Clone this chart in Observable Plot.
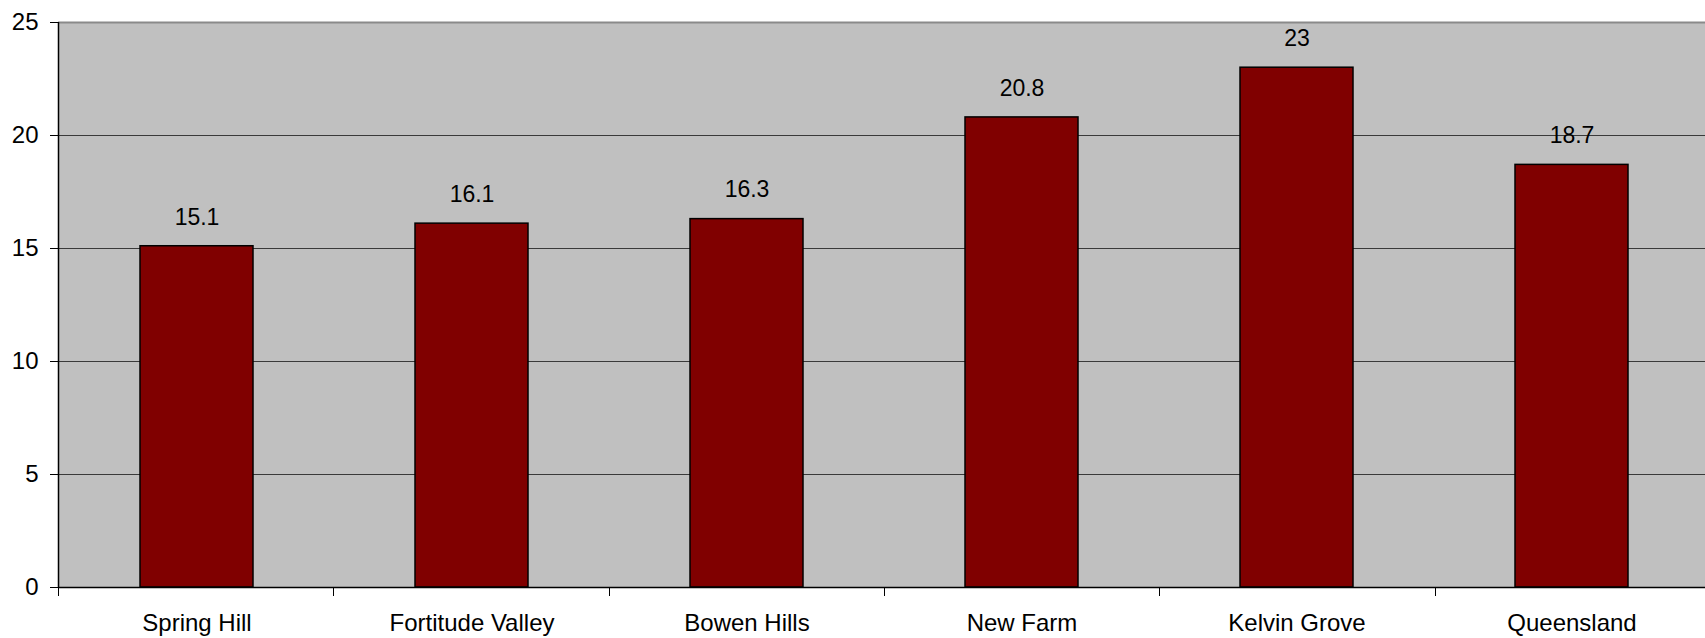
<!DOCTYPE html>
<html>
<head>
<meta charset="utf-8">
<script src="https://cdn.jsdelivr.net/npm/d3@7"></script>
<script src="https://cdn.jsdelivr.net/npm/@observablehq/plot@0.6"></script>
<style>
  html, body { margin: 0; padding: 0; background: #fff; overflow: hidden; }
  svg { display: block; }
</style>
</head>
<body>
<div id="chart"></div>
<script>
const categories = ["Spring Hill", "Fortitude Valley", "Bowen Hills", "New Farm", "Kelvin Grove", "Queensland"];
const values = [15.1, 16.1, 16.3, 20.8, 23, 18.7];
const valueLabels = ["15.1", "16.1", "16.3", "20.8", "23", "18.7"];
const yTicks = [0, 5, 10, 15, 20, 25];

const data = categories.map((c, i) => ({category: c, value: values[i], label: valueLabels[i]}));

const W = 1705, H = 638;
const mL = 58, mT = 22, mB = 51, mR = -5;

const chart = Plot.plot({
  width: W,
  height: H,
  marginLeft: mL,
  marginTop: mT,
  marginBottom: mB,
  marginRight: mR,
  style: {fontFamily: "'Liberation Sans', Arial, sans-serif", fontSize: "23px", color: "#000", background: "#fff", overflow: "hidden"},
  x: {domain: categories, paddingInner: 0.59, paddingOuter: 0.295, align: 0.5, label: null},
  y: {domain: [0, 25], label: null},
  marks: [
    Plot.frame({fill: "#c0c0c0", stroke: null}),
    Plot.ruleY(yTicks.filter(t => t > 0 && t < 25), {stroke: "#3a3a3a", strokeWidth: 1}),
    Plot.ruleY([25], {stroke: "#8a8a8a", strokeWidth: 2}),
    Plot.barY(data, {x: "category", y: "value", fill: "#800000", stroke: "#000", strokeWidth: 1.5}),
    Plot.text(data, {x: "category", y: "value", text: "label", dy: -29, fontSize: 23, fill: "#000"}),
    Plot.axisY({ticks: yTicks, tickSize: 8, tickPadding: 12, fontSize: 24, label: null, stroke: "#000"}),
    Plot.axisX({tickSize: 0, tickPadding: 26, fontSize: 24, label: null}),
    Plot.ruleY([0], {stroke: "#000", strokeWidth: 1.5})
  ]
});

// Category boundary ticks and left axis line, positioned from the chart's scales
const ys = chart.scale("y");
const svg = d3.select(chart);
const bw = (W - mL - mR) / categories.length;
const g = svg.append("g");
const y0 = ys.apply(0);
for (let i = 0; i <= categories.length; i++) {
  const x = Math.round(mL + bw * i) + 0.5;
  g.append("line").attr("x1", x).attr("x2", x).attr("y1", y0).attr("y2", y0 + 9).attr("stroke", "#000");
}
g.append("line").attr("x1", mL + 0.5).attr("x2", mL + 0.5).attr("y1", ys.apply(25)).attr("y2", y0).attr("stroke", "#000").attr("stroke-width", 1.5);

document.getElementById("chart").appendChild(chart);
</script>
</body>
</html>
